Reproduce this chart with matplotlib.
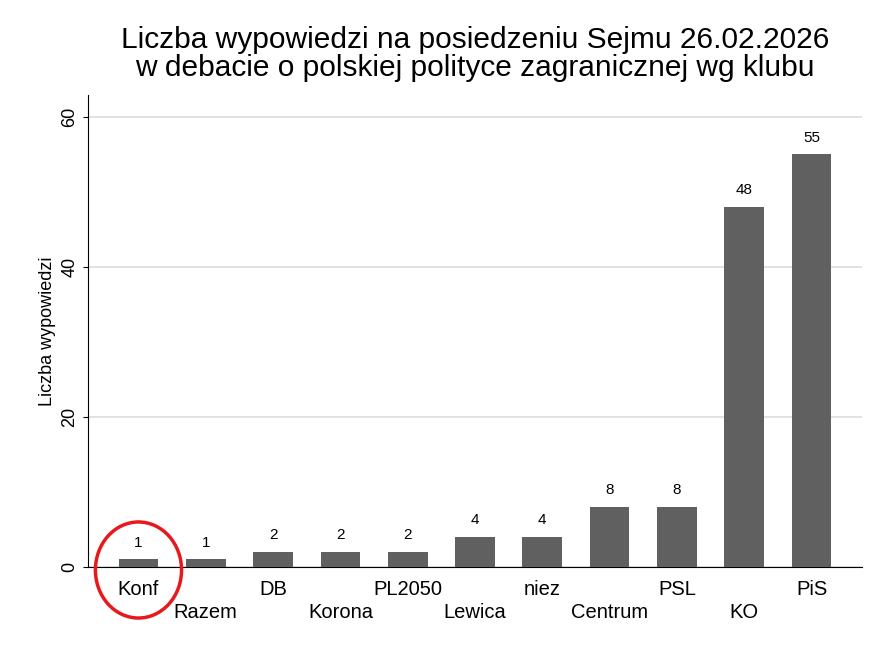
import matplotlib.pyplot as plt
from matplotlib.patches import Ellipse

plt.rcParams['font.family'] = ['Liberation Sans', 'DejaVu Sans']

clubs = ['Konf', 'Razem', 'DB', 'Korona', 'PL2050', 'Lewica', 'niez', 'Centrum', 'PSL', 'KO', 'PiS']
counts = [1, 1, 2, 2, 2, 4, 4, 8, 8, 48, 55]

fig = plt.figure(figsize=(8.91, 6.48), dpi=100)
ax = fig.add_axes([88/891, 1 - 567/648, (862-88)/891, (567-95)/648])

x = list(range(len(clubs)))
ax.bar(x, counts, width=0.59, color='#606060', zorder=3)
for xi, c in zip(x, counts):
    ax.text(xi, c + 1.3, str(c), ha='center', va='bottom', fontsize=11)

ax.set_xlim(-0.75, len(clubs) - 0.25)
ax.set_ylim(0, 62.9)
ax.set_yticks([0, 20, 40, 60])
ax.set_yticklabels(['0', '20', '40', '60'], rotation=90, va='center', fontsize=13)
ax.grid(axis='y', color='#dddddd', linewidth=1.2, zorder=0)
ax.set_ylabel('Liczba wypowiedzi', fontsize=13)
ax.tick_params(axis='x', length=0)
ax.set_xticks([])
for s in ['top', 'right']:
    ax.spines[s].set_visible(False)

for xi, name in zip(x, clubs):
    y = -3.0 if xi % 2 == 0 else -6.0
    ax.text(xi, y, name, ha='center', va='center', fontsize=14.5)

ax.set_title('Liczba wypowiedzi na posiedzeniu Sejmu 26.02.2026\n'
             'w debacie o polskiej polityce zagranicznej wg klubu',
             fontsize=21.5, linespacing=1.0, pad=14)

ell = Ellipse((0, -0.4), width=1.28, height=12.8, fill=False,
              edgecolor='#e8191c', linewidth=2.5, clip_on=False, zorder=5)
ax.add_patch(ell)

fig.savefig('out.png', dpi=100)
